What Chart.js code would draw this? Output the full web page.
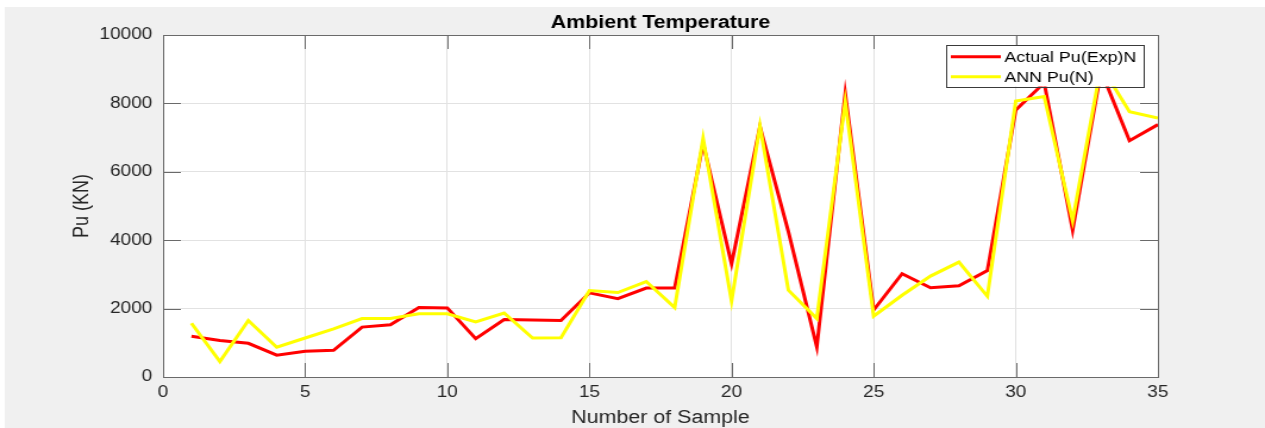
<!DOCTYPE html>
<html>
<head>
<meta charset="utf-8">
<title>Ambient Temperature</title>
<script src="https://cdn.jsdelivr.net/npm/chart.js@4.4.1/dist/chart.umd.min.js"></script>
<style>
    html, body { margin: 0; padding: 0; background: #ffffff; overflow: hidden; }
</style>
</head>
<body>
<!-- drawn on a narrower canvas and stretched, like the original figure -->
<canvas id="ambientChart" width="1063" height="428" style="display:block;width:1265px;height:428px;"></canvas>
<script>
(function() {
    'use strict';

    // Sample numbers (x axis)
    const samples = [
        1, 2, 3, 4, 5, 6, 7, 8, 9, 10, 11, 12, 13, 14, 15, 16, 17, 18,
        19, 20, 21, 22, 23, 24, 25, 26, 27, 28, 29, 30, 31, 32, 33, 34, 35
    ];

    // Actual Pu(Exp)N
    const actualPu = [
        1190, 1070, 985, 640, 750, 780, 1460, 1530, 2030, 2020, 1120, 1680,
        1670, 1650, 2460, 2290, 2600, 2600, 6830, 3310, 7320, 4250, 880, 8290,
        1960, 3020, 2610, 2670, 3110, 7810, 8600, 4300, 8950, 6910, 7380
    ];

    // ANN Pu(N)
    const annPu = [
        1570, 450, 1650, 870, 1140, 1410, 1710, 1710, 1850, 1850, 1610, 1870,
        1140, 1150, 2530, 2470, 2790, 2030, 6980, 2220, 7340, 2540, 1710, 8050,
        1780, 2390, 2950, 3360, 2360, 8070, 8200, 4570, 9100, 7760, 7570
    ];

    // Axis ticks
    const xTicks = [0, 5, 10, 15, 20, 25, 30, 35];
    const yTicks = [0, 2000, 4000, 6000, 8000, 10000];

    const FONT = "'Liberation Sans', Arial, Helvetica, sans-serif";
    const TEXT = '#262626';
    const AXIS = '#6a6a6a';

    function toPoints(values) {
        return values.map((v, i) => ({ x: samples[i], y: v }));
    }

    /**
     * Figure background (gray) and white axes area
     */
    const figureBackground = {
        id: 'figureBackground',
        beforeDraw(chart) {
            const { ctx, chartArea: a } = chart;
            ctx.save();
            ctx.fillStyle = '#ffffff';
            ctx.fillRect(0, 0, chart.width, chart.height);
            ctx.fillStyle = '#f0f0f0';
            ctx.fillRect(4, 7, chart.width - 4, chart.height - 7);
            ctx.fillStyle = '#ffffff';
            ctx.fillRect(a.left, a.top, a.right - a.left, a.bottom - a.top);
            ctx.restore();
        }
    };

    /**
     * Box around the axes and inward tick marks (matlab style)
     */
    const axesBox = {
        id: 'axesBox',
        beforeDatasetsDraw(chart) {
            const { ctx, chartArea: a, scales } = chart;
            ctx.save();
            ctx.strokeStyle = AXIS;
            ctx.lineWidth = 1;
            ctx.beginPath();
            xTicks.forEach(v => {
                const px = Math.round(scales.x.getPixelForValue(v)) + 0.5;
                ctx.moveTo(px, a.bottom);
                ctx.lineTo(px, a.bottom - 14);
                ctx.moveTo(px, a.top);
                ctx.lineTo(px, a.top + 14);
            });
            yTicks.forEach(v => {
                const py = Math.round(scales.y.getPixelForValue(v)) + 0.5;
                ctx.moveTo(a.left, py);
                ctx.lineTo(a.left + 15, py);
                ctx.moveTo(a.right, py);
                ctx.lineTo(a.right - 15, py);
            });
            ctx.stroke();
            ctx.strokeRect(Math.round(a.left) + 0.5, Math.round(a.top) + 0.5,
                Math.round(a.right - a.left), Math.round(a.bottom - a.top));
            ctx.restore();
        }
    };

    /**
     * Legend box inside the upper right corner of the axes
     */
    const insideLegend = {
        id: 'insideLegend',
        afterDraw(chart) {
            const { ctx, chartArea: a } = chart;
            const right = a.right - 12;
            const left = right - 166;
            const top = a.top + 10;
            const bottom = top + 41.5;
            ctx.save();
            ctx.fillStyle = '#ffffff';
            ctx.fillRect(left, top, right - left, bottom - top);
            ctx.strokeStyle = '#3a3a3a';
            ctx.lineWidth = 1;
            ctx.strokeRect(Math.round(left) + 0.5, Math.round(top) + 0.5,
                Math.round(right - left), Math.round(bottom - top));
            ctx.font = '15px ' + FONT;
            ctx.textBaseline = 'middle';
            ctx.textAlign = 'left';
            chart.data.datasets.forEach((ds, i) => {
                const y = top + 11.7 + i * 20;
                ctx.strokeStyle = ds.borderColor;
                ctx.lineWidth = 3;
                ctx.beginPath();
                ctx.moveTo(left + 4, y);
                ctx.lineTo(left + 46, y);
                ctx.stroke();
                ctx.fillStyle = '#000000';
                ctx.fillText(ds.label, left + 49, y + 1);
            });
            ctx.restore();
        }
    };

    const ctx = document.getElementById('ambientChart').getContext('2d');

    new Chart(ctx, {
        type: 'line',
        data: {
            datasets: [{
                label: 'Actual Pu(Exp)N',
                data: toPoints(actualPu),
                borderColor: '#ff0000',
                borderWidth: 3,
                pointRadius: 0,
                tension: 0,
                fill: false,
                order: 1   // drawn first, ANN line sits on top
            }, {
                label: 'ANN Pu(N)',
                data: toPoints(annPu),
                borderColor: '#ffff00',
                borderWidth: 3,
                pointRadius: 0,
                tension: 0,
                fill: false,
                order: 0
            }]
        },
        options: {
            responsive: false,
            animation: false,
            layout: {
                padding: { left: 0, top: 0, right: 90, bottom: 0 }
            },
            plugins: {
                legend: { display: false },
                tooltip: { enabled: false },
                title: {
                    display: true,
                    text: 'Ambient Temperature',
                    fullSize: false,
                    color: '#000000',
                    font: { family: FONT, size: 18, weight: 'bold' },
                    padding: { top: 12, bottom: 1.4 }
                }
            },
            scales: {
                x: {
                    type: 'linear',
                    min: 0,
                    max: 35,
                    afterFit: function(scale) { scale.height = 51; },
                    afterBuildTicks: function(scale) {
                        scale.ticks = xTicks.map(v => ({ value: v }));
                    },
                    grid: {
                        color: '#e2e2e2',
                        drawTicks: false
                    },
                    border: { display: false },
                    ticks: {
                        color: TEXT,
                        padding: 6,
                        maxRotation: 0,
                        font: { family: FONT, size: 16 }
                    },
                    title: {
                        display: true,
                        text: 'Number of Sample',
                        color: TEXT,
                        font: { family: FONT, size: 18 },
                        padding: { top: 0, bottom: -1 }
                    }
                },
                y: {
                    type: 'linear',
                    min: 0,
                    max: 10000,
                    afterFit: function(scale) { scale.width = 137; },
                    afterBuildTicks: function(scale) {
                        scale.ticks = yTicks.map(v => ({ value: v }));
                    },
                    grid: {
                        color: '#e2e2e2',
                        drawTicks: false
                    },
                    border: { display: false },
                    ticks: {
                        color: TEXT,
                        padding: 9,
                        font: { family: FONT, size: 16 },
                        callback: function(value) { return String(value); }
                    },
                    title: {
                        display: true,
                        text: 'Pu (KN)',
                        color: TEXT,
                        font: { family: FONT, size: 18 },
                        padding: { top: 58, bottom: 0 }
                    }
                }
            }
        },
        plugins: [figureBackground, axesBox, insideLegend]
    });
})();
</script>
</body>
</html>
